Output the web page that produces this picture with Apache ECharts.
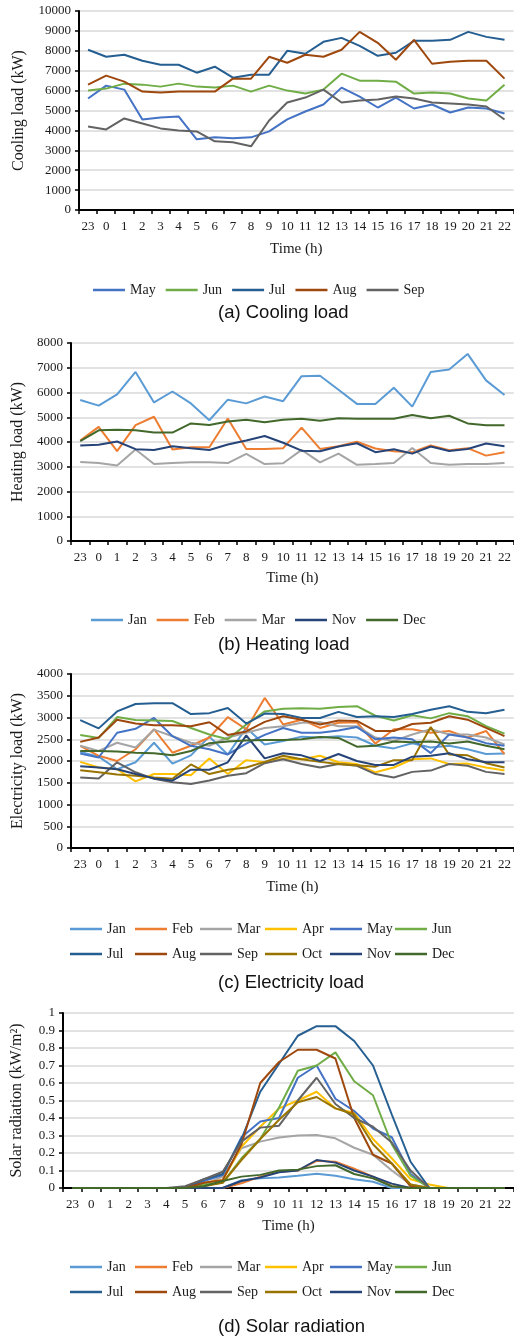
<!DOCTYPE html>
<html>
<head>
<meta charset="utf-8">
<script src="https://cdn.jsdelivr.net/npm/echarts@6/dist/echarts.min.js"></script>
<style>
  html, body { margin: 0; padding: 0; background: #fff; }
  #chartContainer { width: 514px; height: 1337px; }
</style>
</head>
<body>
<div id="chartContainer"></div>
<script>
// hours on the x axis (day starts at 23)
var hours = ['23','0','1','2','3','4','5','6','7','8','9','10','11','12','13','14','15','16','17','18','19','20','21','22'];

// (a) cooling load, kW
var coolMay = [5600, 6250, 6050, 4550, 4650, 4700, 3550, 3650, 3600, 3650, 3950, 4550, 4950, 5300, 6150, 5700, 5150, 5650, 5100, 5300, 4900, 5150, 5100, 4850];
var coolJun = [6000, 6100, 6350, 6300, 6200, 6350, 6200, 6150, 6250, 5950, 6250, 6000, 5850, 6050, 6850, 6500, 6500, 6450, 5850, 5900, 5850, 5600, 5500, 6300];
var coolJul = [8050, 7700, 7800, 7500, 7300, 7300, 6900, 7200, 6650, 6800, 6800, 8000, 7850, 8450, 8650, 8250, 7750, 7900, 8500, 8500, 8550, 8950, 8700, 8550];
var coolAug = [6300, 6750, 6450, 5950, 5900, 5950, 5950, 5950, 6600, 6600, 7700, 7400, 7800, 7700, 8050, 8950, 8400, 7550, 8550, 7350, 7450, 7500, 7500, 6600];
var coolSep = [4200, 4050, 4600, 4350, 4100, 4000, 3950, 3450, 3400, 3200, 4500, 5400, 5650, 6050, 5400, 5500, 5550, 5700, 5600, 5400, 5350, 5300, 5200, 4550];

// (b) heating load, kW
var heatJan = [5700, 5470, 5920, 6830, 5600, 6040, 5560, 4880, 5710, 5560, 5840, 5650, 6660, 6680, 6110, 5540, 5540, 6190, 5430, 6830, 6930, 7560, 6490, 5900];
var heatFeb = [4060, 4610, 3630, 4680, 5020, 3700, 3790, 3790, 4950, 3720, 3720, 3750, 4580, 3720, 3830, 4010, 3740, 3630, 3590, 3860, 3670, 3750, 3450, 3590];
var heatMar = [3190, 3150, 3050, 3700, 3110, 3150, 3180, 3180, 3150, 3520, 3110, 3140, 3680, 3180, 3530, 3080, 3110, 3150, 3760, 3150, 3080, 3110, 3110, 3150];
var heatNov = [3860, 3890, 4020, 3710, 3680, 3830, 3750, 3680, 3900, 4060, 4240, 3970, 3650, 3630, 3820, 3950, 3590, 3710, 3530, 3820, 3640, 3720, 3940, 3830];
var heatDec = [4040, 4470, 4490, 4470, 4380, 4380, 4750, 4690, 4830, 4900, 4800, 4900, 4940, 4860, 4960, 4940, 4940, 4940, 5090, 4960, 5060, 4750, 4680, 4680];

// (c) electricity load, kW
var elecJan = [2210, 2100, 1810, 1970, 2420, 1940, 2130, 2560, 2150, 2760, 2380, 2460, 2560, 2540, 2570, 2540, 2350, 2290, 2410, 2310, 2350, 2270, 2160, 2170];
var elecFeb = [2350, 2120, 2000, 2270, 2730, 2190, 2350, 2540, 3010, 2730, 3450, 2840, 2950, 2760, 2880, 2890, 2400, 2730, 2730, 2650, 2690, 2540, 2690, 2160];
var elecMar = [2350, 2230, 2420, 2310, 2720, 2570, 2420, 2350, 2540, 2650, 2760, 2800, 2880, 2890, 2800, 2800, 2540, 2460, 2610, 2730, 2610, 2610, 2540, 2380];
var elecApr = [1980, 1850, 1810, 1530, 1700, 1700, 1670, 2060, 1700, 2020, 1970, 2060, 2040, 2120, 1970, 1930, 1740, 1850, 2040, 2060, 1930, 1940, 1850, 1780];
var elecMay = [2170, 2080, 2650, 2740, 2990, 2570, 2350, 2270, 2150, 2400, 2600, 2760, 2650, 2650, 2700, 2780, 2500, 2540, 2500, 2180, 2610, 2540, 2410, 2350];
var elecJun = [2600, 2530, 3010, 2940, 2930, 2920, 2760, 2610, 2500, 2840, 3140, 3200, 3210, 3200, 3240, 3260, 3040, 2930, 3050, 2980, 3100, 3030, 2800, 2630];
var elecJul = [2940, 2750, 3140, 3310, 3330, 3330, 3080, 3100, 3220, 2860, 3090, 3080, 2990, 2990, 3130, 3010, 3030, 3010, 3080, 3180, 3260, 3130, 3100, 3180];
var elecAug = [2440, 2540, 2950, 2860, 2820, 2820, 2800, 2890, 2600, 2680, 2900, 3030, 2950, 2840, 2930, 2920, 2690, 2690, 2850, 2880, 3030, 2950, 2760, 2570];
var elecSep = [1620, 1600, 1970, 1740, 1590, 1510, 1470, 1550, 1660, 1720, 1950, 2040, 1930, 1850, 1930, 1890, 1700, 1620, 1750, 1780, 1930, 1890, 1750, 1700];
var elecOct = [1790, 1740, 1690, 1660, 1620, 1590, 1920, 1700, 1800, 1850, 1980, 2120, 2040, 1980, 1930, 1900, 1870, 2020, 2020, 2780, 2150, 2130, 1950, 1850];
var elecNov = [1880, 1850, 1810, 1700, 1600, 1550, 1800, 1800, 1970, 2590, 2060, 2180, 2130, 2000, 2160, 2000, 1910, 1910, 2100, 2120, 2180, 2040, 1970, 1970];
var elecDec = [2230, 2230, 2220, 2190, 2180, 2130, 2230, 2410, 2450, 2470, 2480, 2480, 2500, 2550, 2530, 2330, 2350, 2450, 2430, 2450, 2400, 2450, 2350, 2270];

// (d) solar radiation, kW/m2
var solarJan = [0, 0, 0, 0, 0, 0, 0, 0, 0, 0.045, 0.055, 0.06, 0.07, 0.082, 0.07, 0.05, 0.036, 0, 0, 0, 0, 0, 0, 0];
var solarFeb = [0, 0, 0, 0, 0, 0, 0, 0, 0, 0.027, 0.065, 0.093, 0.1, 0.155, 0.15, 0.11, 0.065, 0.01, 0, 0, 0, 0, 0, 0];
var solarMar = [0, 0, 0, 0, 0, 0, 0, 0.02, 0.065, 0.227, 0.265, 0.288, 0.3, 0.303, 0.284, 0.23, 0.19, 0.1, 0.02, 0, 0, 0, 0, 0];
var solarApr = [0, 0, 0, 0, 0, 0, 0, 0.03, 0.046, 0.236, 0.35, 0.455, 0.5, 0.55, 0.455, 0.43, 0.28, 0.17, 0.05, 0.02, 0, 0, 0, 0];
var solarMay = [0, 0, 0, 0, 0, 0, 0, 0.04, 0.074, 0.29, 0.38, 0.4, 0.63, 0.7, 0.51, 0.44, 0.34, 0.29, 0.08, 0, 0, 0, 0, 0];
var solarJun = [0, 0, 0, 0, 0, 0, 0, 0.02, 0.03, 0.17, 0.28, 0.46, 0.67, 0.7, 0.775, 0.61, 0.53, 0.25, 0.07, 0, 0, 0, 0, 0];
var solarJul = [0, 0, 0, 0, 0, 0, 0, 0.05, 0.08, 0.28, 0.55, 0.71, 0.87, 0.925, 0.925, 0.84, 0.7, 0.42, 0.15, 0, 0, 0, 0, 0];
var solarAug = [0, 0, 0, 0, 0, 0, 0, 0.03, 0.045, 0.25, 0.6, 0.72, 0.79, 0.79, 0.74, 0.4, 0.19, 0.14, 0.01, 0, 0, 0, 0, 0];
var solarSep = [0, 0, 0, 0, 0, 0, 0.01, 0.05, 0.093, 0.265, 0.345, 0.356, 0.5, 0.63, 0.48, 0.4, 0.35, 0.26, 0.1, 0, 0, 0, 0, 0];
var solarOct = [0, 0, 0, 0, 0, 0, 0, 0.01, 0.03, 0.16, 0.28, 0.39, 0.49, 0.52, 0.455, 0.42, 0.25, 0.14, 0.02, 0, 0, 0, 0, 0];
var solarNov = [0, 0, 0, 0, 0, 0, 0, 0, 0, 0.04, 0.06, 0.09, 0.1, 0.16, 0.145, 0.1, 0.065, 0.025, 0, 0, 0, 0, 0, 0];
var solarDec = [0, 0, 0, 0, 0, 0, 0, 0.01, 0.04, 0.065, 0.075, 0.1, 0.105, 0.125, 0.13, 0.08, 0.055, 0.01, 0, 0, 0, 0, 0, 0];

var monthColor = {
  Jan: '#5B9BD5', Feb: '#ED7D31', Mar: '#A5A5A5', Apr: '#FFC000',
  May: '#4472C4', Jun: '#70AD47', Jul: '#255E91', Aug: '#9E480E',
  Sep: '#636363', Oct: '#997300', Nov: '#264478', Dec: '#43682B'
};

var panels = [
  [['May', coolMay], ['Jun', coolJun], ['Jul', coolJul], ['Aug', coolAug], ['Sep', coolSep]],
  [['Jan', heatJan], ['Feb', heatFeb], ['Mar', heatMar], ['Nov', heatNov], ['Dec', heatDec]],
  [['Jan', elecJan], ['Feb', elecFeb], ['Mar', elecMar], ['Apr', elecApr], ['May', elecMay], ['Jun', elecJun],
   ['Jul', elecJul], ['Aug', elecAug], ['Sep', elecSep], ['Oct', elecOct], ['Nov', elecNov], ['Dec', elecDec]],
  [['Jan', solarJan], ['Feb', solarFeb], ['Mar', solarMar], ['Apr', solarApr], ['May', solarMay], ['Jun', solarJun],
   ['Jul', solarJul], ['Aug', solarAug], ['Sep', solarSep], ['Oct', solarOct], ['Nov', solarNov], ['Dec', solarDec]]
];

var allMonths = ['Jan', 'Feb', 'Mar', 'Apr', 'May', 'Jun', 'Jul', 'Aug', 'Sep', 'Oct', 'Nov', 'Dec'];

var serif = 'Liberation Serif';
var ink = '#1a1a1a';

function makeXAxis(g, gap) {
  return {
    type: 'category', gridIndex: g, data: hours, boundaryGap: true,
    name: 'Time (h)', nameLocation: 'middle', nameGap: gap,
    nameTextStyle: { fontFamily: serif, fontSize: 15, color: ink },
    axisLine: { show: true, lineStyle: { color: '#000', width: 2 } },
    axisTick: { show: true, length: 4, lineStyle: { color: '#000', width: 1.5 } },
    axisLabel: { interval: 0, margin: 10, fontFamily: serif, fontSize: 13, color: ink },
    splitLine: { show: false }
  };
}

function makeYAxis(g, name, max, interval, gap) {
  return {
    type: 'value', gridIndex: g, min: 0, max: max, interval: interval,
    name: name, nameLocation: 'middle', nameGap: gap,
    nameTextStyle: { fontFamily: serif, fontSize: 16, color: ink },
    axisLine: { show: true, lineStyle: { color: '#000', width: 2 } },
    axisTick: { show: true, length: 4, lineStyle: { color: '#000', width: 1.5 } },
    axisLabel: {
      margin: 8, fontFamily: serif, fontSize: 13, color: ink,
      formatter: function (v) { return String(+v.toFixed(2)); }
    },
    splitLine: { show: true, lineStyle: { color: '#d9d9d9', width: 1.5 } }
  };
}

function makeLegend(names, left, top) {
  return {
    data: names, left: left, top: top, padding: 0,
    icon: 'rect', itemWidth: 32, itemHeight: 2.5, itemGap: 10,
    textStyle: { fontFamily: serif, fontSize: 14, color: ink }
  };
}

// 12-month legend: two rows of six, laid out in fixed columns
function monthGrid(top) {
  return allMonths.map(function (m, j) {
    return makeLegend([m], 70 + 65 * (j % 6), top + 25 * Math.floor(j / 6));
  });
}

function makeCaption(text, top) {
  return {
    text: text, left: 218, top: top, padding: 0,
    textStyle: { fontFamily: 'Liberation Sans', fontSize: 18.5, fontWeight: 'normal', color: '#111' }
  };
}

var series = [];
panels.forEach(function (list, g) {
  list.forEach(function (item) {
    series.push({
      type: 'line', name: item[0], data: item[1],
      xAxisIndex: g, yAxisIndex: g,
      symbol: 'none', smooth: false,
      lineStyle: { width: 2, color: monthColor[item[0]] },
      itemStyle: { color: monthColor[item[0]] }
    });
  });
});

var chart = echarts.init(document.getElementById('chartContainer'));

chart.setOption({
  animation: false,
  backgroundColor: '#fff',
  title: [
    makeCaption('(a) Cooling load', 303),
    makeCaption('(b) Heating load', 635),
    makeCaption('(c) Electricity load', 973),
    makeCaption('(d) Solar radiation', 1317)
  ],
  grid: [
    { left: 79, top: 11, width: 435, height: 199 },
    { left: 71, top: 343, width: 443, height: 198 },
    { left: 71, top: 674, width: 443, height: 174 },
    { left: 63, top: 1013, width: 451, height: 175 }
  ],
  xAxis: [makeXAxis(0, 32), makeXAxis(1, 30), makeXAxis(2, 32), makeXAxis(3, 31)],
  yAxis: [
    makeYAxis(0, 'Cooling load (kW)', 10000, 1000, 52),
    makeYAxis(1, 'Heating load (kW)', 8000, 1000, 44),
    makeYAxis(2, 'Electricity load (kW)', 4000, 500, 45),
    makeYAxis(3, 'Solar radiation (kW/m\u00B2)', 1, 0.1, 38)
  ],
  legend: [
    makeLegend(['May', 'Jun', 'Jul', 'Aug', 'Sep'], 93, 283),
    makeLegend(['Jan', 'Feb', 'Mar', 'Nov', 'Dec'], 91, 613)
  ].concat(monthGrid(922), monthGrid(1260)),
  series: series
});

window.addEventListener('resize', function () {
  chart.resize();
});
</script>
</body>
</html>
